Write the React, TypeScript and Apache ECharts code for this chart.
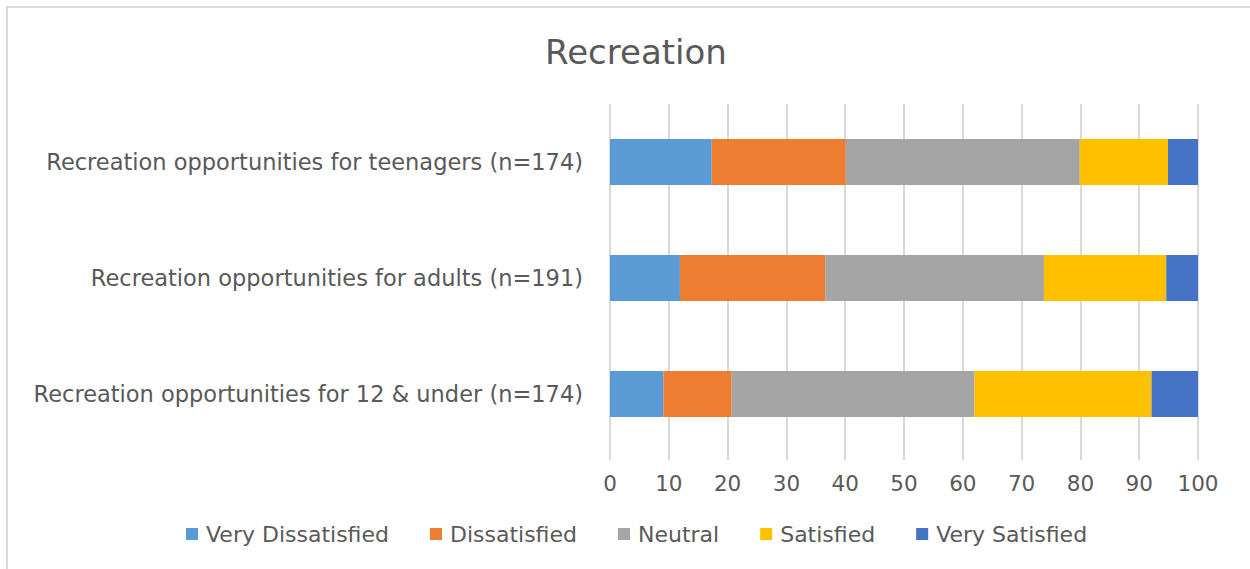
import React, { useEffect, useRef } from "react";
import * as echarts from "echarts";

const categories = [
  "Recreation opportunities for 12 & under (n=174)",
  "Recreation opportunities for adults (n=191)",
  "Recreation opportunities for teenagers (n=174)",
];
const seriesNames = ["Very Dissatisfied", "Dissatisfied", "Neutral", "Satisfied", "Very Satisfied"];
const veryDissatisfied = [9.1, 11.9, 17.3];
const dissatisfied = [11.6, 24.7, 22.8];
const neutral = [41.3, 37.2, 39.8];
const satisfied = [30.1, 20.8, 15.0];
const verySatisfied = [7.9, 5.4, 5.1];
const colors = ["#5b9bd5", "#ed7d31", "#a5a5a5", "#ffc000", "#4472c4"];

const FONT = "'DejaVu Sans', sans-serif";

export default function App() {
  const ref = useRef<HTMLDivElement>(null);
  useEffect(() => {
    if (!ref.current) return;
    const chart = echarts.init(ref.current, null, { renderer: "svg" });
    const values = [veryDissatisfied, dissatisfied, neutral, satisfied, verySatisfied];
    chart.setOption({
      animation: false,
      backgroundColor: "#ffffff",
      title: {
        text: "Recreation",
        left: 631,
        textAlign: "center",
        top: 30,
        textStyle: { fontFamily: FONT, fontSize: 34, fontWeight: "normal", color: "#595959" },
      },
      graphic: [
        {
          type: "rect",
          shape: { x: 7, y: 7, width: 1260, height: 580 },
          style: { fill: "none", stroke: "#d9d9d9", lineWidth: 2 },
          silent: true,
        },
      ],
      legend: {
        data: seriesNames,
        bottom: 19,
        left: 181,
        itemWidth: 12,
        itemHeight: 12,
        itemGap: 41,
        icon: "rect",
        textStyle: { fontFamily: FONT, fontSize: 22, color: "#595959", padding: [0, 0, 0, 3] },
      },
      grid: { left: 610, right: 52, top: 104, bottom: 117, containLabel: false },
      xAxis: {
        type: "value",
        min: 0,
        max: 100,
        interval: 10,
        axisLine: { show: false },
        axisTick: { show: true, length: 8, lineStyle: { color: "#d9d9d9", width: 2 } },
        splitLine: { show: true, lineStyle: { color: "#d9d9d9", width: 2 } },
        axisLabel: { fontFamily: FONT, fontSize: 21.5, color: "#595959", margin: 20 },
      },
      yAxis: {
        type: "category",
        data: categories,
        axisLine: { show: false },
        axisTick: { show: false },
        axisLabel: { fontFamily: FONT, fontSize: 22.5, color: "#595959", margin: 27 },
      },
      series: seriesNames.map((name, i) => ({
        name,
        type: "bar",
        stack: "total",
        barWidth: 46,
        data: values[i],
        itemStyle: { color: colors[i] },
      })),
    });
    return () => chart.dispose();
  }, []);
  return (
    <div
      ref={ref}
      style={{ position: "fixed", left: 0, top: 0, width: 1250, height: 569 }}
    />
  );
}
